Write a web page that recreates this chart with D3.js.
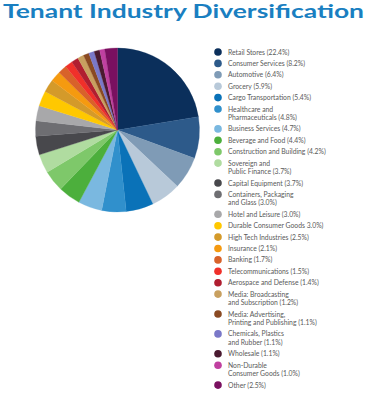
<!DOCTYPE html>
<html>
<head>
<meta charset="utf-8">
<script src="https://cdn.jsdelivr.net/npm/d3@7"></script>
<style>
  html, body { margin: 0; padding: 0; background: #fff; }
  svg { display: block; }
</style>
</head>
<body>
<div id="chart"></div>
<script>
// Tenant industry diversification - pie + legend

const industries = [
  'Retail Stores (22.4%)',
  'Consumer Services (8.2%)',
  'Automotive (6.4%)',
  'Grocery (5.9%)',
  'Cargo Transportation (5.4%)',
  'Healthcare and\nPharmaceuticals (4.8%)',
  'Business Services (4.7%)',
  'Beverage and Food (4.4%)',
  'Construction and Building (4.2%)',
  'Sovereign and\nPublic Finance (3.7%)',
  'Capital Equipment (3.7%)',
  'Containers, Packaging\nand Glass (3.0%)',
  'Hotel and Leisure (3.0%)',
  'Durable Consumer Goods 3.0%)',
  'High Tech Industries (2.5%)',
  'Insurance (2.1%)',
  'Banking (1.7%)',
  'Telecommunications (1.5%)',
  'Aerospace and Defense (1.4%)',
  'Media: Broadcasting\nand Subscription (1.2%)',
  'Media: Advertising,\nPrinting and Publishing (1.1%)',
  'Chemicals, Plastics\nand Rubber (1.1%)',
  'Wholesale (1.1%)',
  'Non-Durable\nConsumer Goods (1.0%)',
  'Other (2.5%)'
];

const shares = [22.4, 8.2, 6.4, 5.9, 5.4, 4.8, 4.7, 4.4, 4.2, 3.7, 3.7, 3.0, 3.0, 3.0,
  2.5, 2.1, 1.7, 1.5, 1.4, 1.2, 1.1, 1.1, 1.1, 1.0, 2.5];

const colors = ['#0b2f5b', '#2d5a8a', '#7f9bb6', '#b8c9d9', '#0a72b8', '#3090cc',
  '#7ab8e0', '#4caf3c', '#7ec86a', '#b0dca0', '#48484c', '#6e6e72', '#a8a8aa',
  '#ffc800', '#d49a2a', '#f59a10', '#d8622a', '#f0302a', '#b01e30', '#c8a060',
  '#8a4a22', '#7a78c8', '#4a1a30', '#c040a0', '#7a1060'];

const width = 369;
const height = 399;

const svg = d3.select('#chart')
  .append('svg')
  .attr('width', width)
  .attr('height', height);

// Titulo (esticado para a largura do original)
svg.append('text')
  .attr('x', 3)
  .attr('y', 17.5)
  .attr('fill', '#1a7fc1')
  .attr('textLength', 361)
  .attr('lengthAdjust', 'spacingAndGlyphs')
  .style('font-family', 'Lato, sans-serif')
  .style('font-weight', '700')
  .style('font-size', '19px')
  .text('Tenant Industry Diversification');

const data = industries.map((name, i) => ({ name, value: shares[i], color: colors[i] }));

// Pizza
const radius = 82;
const pieG = svg.append('g')
  .attr('transform', 'translate(117.5,130)');

const pie = d3.pie()
  .value(d => d.value)
  .sort(null);

const arc = d3.arc()
  .innerRadius(0)
  .outerRadius(radius);

pieG.selectAll('path')
  .data(pie(data))
  .enter()
  .append('path')
  .attr('d', arc)
  .attr('fill', d => d.data.color)
  .attr('stroke', d => d.data.color)
  .attr('stroke-width', 0.3);

// Legenda
const rowStep = 11.4;
const extraLine = 8.5;
const legend = svg.append('g');

let y = 52;
data.forEach(d => {
  const lines = d.name.split('\n');
  const row = legend.append('g').attr('transform', `translate(0,${y})`);

  row.append('circle')
    .attr('cx', 218)
    .attr('cy', 0)
    .attr('r', 3.8)
    .attr('fill', d.color);

  const t = row.append('text')
    .attr('x', 228)
    .attr('y', 2.5)
    .attr('fill', '#5a5a5a')
    .style('font-family', 'Lato, sans-serif')
    .style('font-size', '6.8px');

  lines.forEach((ln, j) => {
    t.append('tspan')
      .attr('x', 228)
      .attr('dy', j === 0 ? 0 : extraLine)
      .text(ln);
  });

  y += rowStep + (lines.length - 1) * extraLine;
});
</script>
</body>
</html>
